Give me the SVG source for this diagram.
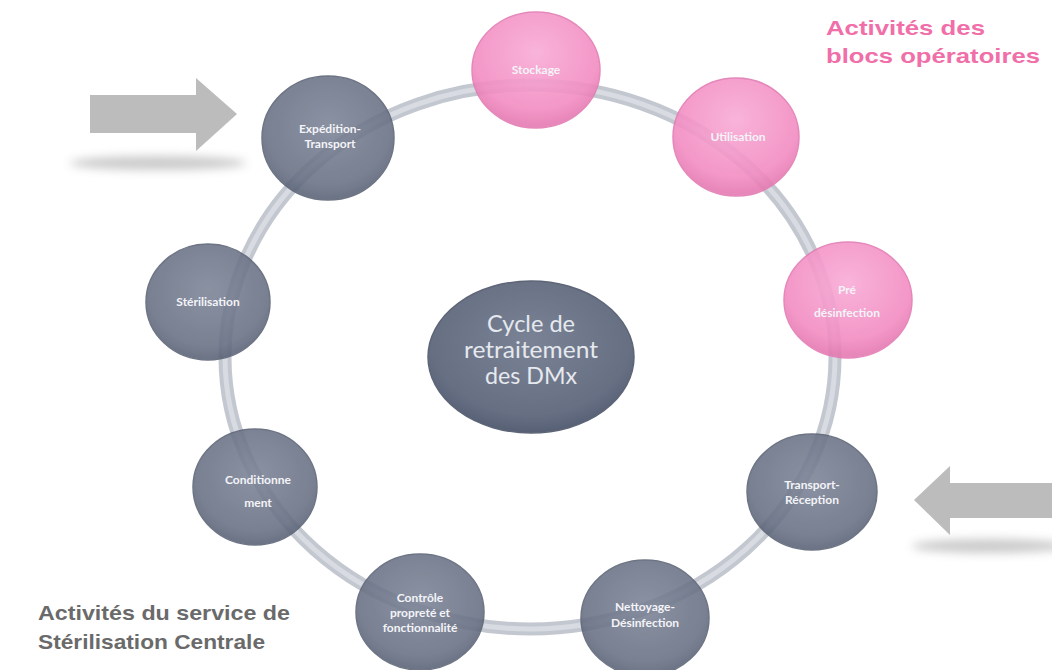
<svg xmlns="http://www.w3.org/2000/svg" width="1052" height="670" viewBox="0 0 1052 670">
<defs>
<radialGradient id="gDark" cx="50%" cy="40%" r="60%">
<stop offset="0" stop-color="#7a8396"/>
<stop offset="0.8" stop-color="#676f83"/>
<stop offset="1" stop-color="#566074"/>
</radialGradient>
<radialGradient id="gPink" cx="50%" cy="35%" r="62%">
<stop offset="0" stop-color="#f9acd6"/>
<stop offset="0.8" stop-color="#f28cc2"/>
<stop offset="1" stop-color="#e67bb2"/>
</radialGradient>
<filter id="blur" x="-50%" y="-200%" width="200%" height="500%"><feGaussianBlur stdDeviation="5"/></filter>
</defs>
<style>
.dk{fill:url(#gDark);stroke:#5a6274;stroke-width:1.5;opacity:0.88}
.pk{fill:url(#gPink);stroke:#e27cb3;stroke-width:1.5;opacity:0.9}
.lbl{font-family:Lato,"Open Sans","Liberation Sans",sans-serif;font-weight:bold;font-size:12px;fill:#f4f4f8;text-anchor:middle}
.ctr{font-family:Lato,"Open Sans","Liberation Sans",sans-serif;font-size:23px;fill:#e6e9ee;text-anchor:middle}
.pinkT{font-family:"Liberation Sans",Arial,sans-serif;font-weight:bold;font-size:21px;fill:#f06fa9}
.grayT{font-family:"Liberation Sans",Arial,sans-serif;font-weight:bold;font-size:21px;fill:#6a6a6a}
.arr{fill:#bcbcbc}
.shd{fill:#8c8c8c;opacity:0.45;filter:url(#blur)}
</style>
<rect width="1052" height="670" fill="#ffffff"/>
<g id="connectors">
<ellipse cx="530" cy="357" rx="305" ry="272" fill="none" stroke="#c3c7cf" stroke-width="13"/>
<ellipse cx="530" cy="357" rx="305" ry="272" fill="none" stroke="#d8dbe1" stroke-width="5"/>
</g>
<g id="arrow-left">
<ellipse class="shd" cx="158" cy="163" rx="88" ry="7"/>
<polygon class="arr" points="90,95 196,95 196,78 237,114 196,151 196,133 90,133"/>
</g>
<g id="arrow-right">
<ellipse class="shd" cx="990" cy="546" rx="78" ry="7"/>
<polygon class="arr" points="1052,483 950,483 950,466 914,500 950,535 950,518 1052,518"/>
</g>
<g id="center">
<ellipse cx="531" cy="357" rx="103" ry="76" fill="url(#gDark)" stroke="#5d6577" stroke-width="1.5"/>
<text class="ctr" x="531" y="332" textLength="88" lengthAdjust="spacingAndGlyphs">Cycle de</text>
<text class="ctr" x="531" y="358" textLength="134" lengthAdjust="spacingAndGlyphs">retraitement</text>
<text class="ctr" x="531" y="384" textLength="92" lengthAdjust="spacingAndGlyphs">des DMx</text>
</g>
<g id="stockage">
<ellipse class="pk" cx="536" cy="70" rx="64" ry="58"/>
<text class="lbl" x="536" y="74">Stockage</text>
</g>
<g id="utilisation">
<ellipse class="pk" cx="736" cy="137" rx="63" ry="59"/>
<text class="lbl" x="738" y="141">Utilisation</text>
</g>
<g id="pre-desinfection">
<ellipse class="pk" cx="848" cy="300" rx="64" ry="58"/>
<text class="lbl" x="847" y="294">Pré</text>
<text class="lbl" x="847" y="317">désinfection</text>
</g>
<g id="transport-reception">
<ellipse class="dk" cx="812" cy="492" rx="65" ry="58"/>
<text class="lbl" x="812" y="489">Transport-</text>
<text class="lbl" x="812" y="504">Réception</text>
</g>
<g id="nettoyage">
<ellipse class="dk" cx="645" cy="618" rx="64" ry="58"/>
<text class="lbl" x="645" y="611">Nettoyage-</text>
<text class="lbl" x="645" y="627">Désinfection</text>
</g>
<g id="controle">
<ellipse class="dk" cx="420" cy="612" rx="64" ry="58"/>
<text class="lbl" x="420" y="602">Contrôle</text>
<text class="lbl" x="420" y="617">propreté et</text>
<text class="lbl" x="420" y="632">fonctionnalité</text>
</g>
<g id="conditionnement">
<ellipse class="dk" cx="255" cy="487" rx="62" ry="58"/>
<text class="lbl" x="258" y="484">Conditionne</text>
<text class="lbl" x="258" y="507">ment</text>
</g>
<g id="sterilisation">
<ellipse class="dk" cx="208" cy="302" rx="62" ry="58"/>
<text class="lbl" x="208" y="306">Stérilisation</text>
</g>
<g id="expedition">
<ellipse class="dk" cx="328" cy="138" rx="66" ry="62"/>
<text class="lbl" x="330" y="133">Expédition-</text>
<text class="lbl" x="330" y="148">Transport</text>
</g>
<g id="labels">
<text class="pinkT" x="826" y="35" textLength="159" lengthAdjust="spacingAndGlyphs">Activités des</text>
<text class="pinkT" x="826" y="63" textLength="214" lengthAdjust="spacingAndGlyphs">blocs opératoires</text>
<text class="grayT" x="38" y="620" textLength="252" lengthAdjust="spacingAndGlyphs">Activités du service de</text>
<text class="grayT" x="38" y="649" textLength="227" lengthAdjust="spacingAndGlyphs">Stérilisation Centrale</text>
</g>
</svg>
